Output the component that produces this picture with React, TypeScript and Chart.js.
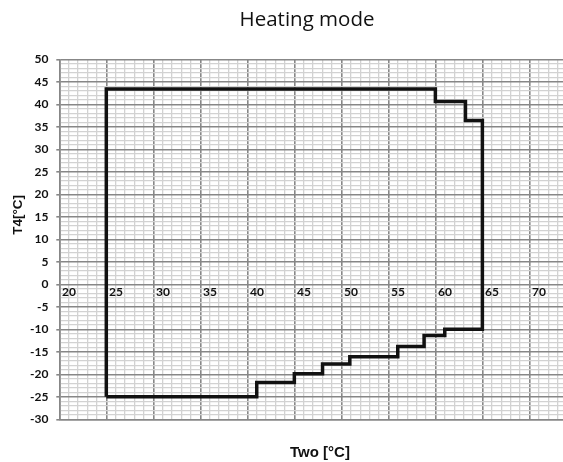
import { useEffect, useRef } from 'react';
import { Chart, registerables } from 'chart.js';

Chart.register(...registerables);

// Envelope outline (Two [°C], T4 [°C]) traced clockwise from the bottom-left corner
const twoValues = [25, 25, 60, 60, 63.2, 63.2, 65, 65, 61, 61, 58.8, 58.8, 56, 56, 50.9, 50.9, 48, 48, 45, 45, 41, 41, 25];
const t4Values = [-25, 43.4, 43.4, 40.6, 40.6, 36.4, 36.4, -10, -10, -11.4, -11.4, -13.8, -13.8, -16.1, -16.1, -17.7, -17.7, -19.9, -19.9, -21.8, -21.8, -25, -25];

const xTickLabels = [20, 25, 30, 35, 40, 45, 50, 55, 60, 65, 70];
const X_MIN = 20;
const X_MAX = 79;
const Y_MIN = -30;
const Y_MAX = 50;

const TITLE = 'Heating mode';
const X_TITLE = 'Two [°C]';
const Y_TITLE = 'T4[°C]';

function steps(a: number, b: number) {
  const r: { value: number }[] = [];
  for (let v = a; v <= b; v++) r.push({ value: v });
  return r;
}

export default function App() {
  const ref = useRef<HTMLCanvasElement>(null);

  useEffect(() => {
    if (!ref.current) return;
    const points = twoValues.map((x, i) => ({ x, y: t4Values[i] }));
    const major = '#878787';
    const minor = '#d2d2d2';
    const isMajor = (ctx: any) => ctx.tick && Math.round(ctx.tick.value) % 5 === 0;
    const gridColor = (ctx: any) => (isMajor(ctx) ? major : minor);
    const gridWidth = (ctx: any) => (isMajor(ctx) ? 1.6 : 1.3);
    const tickFont = { family: 'Lato', size: 12, weight: 'bold' as const };

    const chart = new Chart(ref.current, {
      type: 'scatter',
      data: {
        datasets: [
          {
            data: points,
            showLine: true,
            borderColor: '#111',
            borderWidth: 3.5,
            pointRadius: 0,
            pointHoverRadius: 0,
            fill: false,
            tension: 0,
            borderJoinStyle: 'miter',
          } as any,
        ],
      },
      options: {
        animation: false,
        responsive: false,
        devicePixelRatio: 1,
        layout: { padding: 0 },
        plugins: {
          legend: { display: false },
          tooltip: { enabled: false },
          title: {
            display: true,
            text: TITLE,
            color: '#111',
            font: { family: 'Open Sans', size: 20.5, weight: 'normal' },
            padding: { top: 8, bottom: 26.7 },
          },
        },
        scales: {
          x: {
            type: 'linear',
            axis: 'x',
            position: 'bottom',
            min: X_MIN,
            max: X_MAX,
            afterBuildTicks: (s: any) => {
              s.ticks = steps(X_MIN, X_MAX);
            },
            ticks: { display: false },
            grid: { color: gridColor, lineWidth: gridWidth, drawTicks: false },
            border: { color: major, width: 1.6 },
            title: {
              display: true,
              text: X_TITLE + '        ',
              color: '#111',
              font: { family: 'Liberation Sans', size: 15, weight: 'bold' },
              padding: { top: 24.7, bottom: 0 },
            },
          },
          xl: {
            type: 'linear',
            axis: 'x',
            position: { y: 0 },
            min: X_MIN,
            max: X_MAX,
            afterBuildTicks: (s: any) => {
              s.ticks = xTickLabels.map((v) => ({ value: v }));
            },
            grid: { display: false, drawTicks: false },
            border: { display: false },
            ticks: {
              autoSkip: false,
              maxRotation: 0,
              align: 'start',
              labelOffset: 2.7,
              padding: 1,
              color: '#111',
              font: tickFont,
              callback: (v: any) => String(v),
            },
          } as any,
          y: {
            type: 'linear',
            position: 'left',
            min: Y_MIN,
            max: Y_MAX,
            afterBuildTicks: (s: any) => {
              s.ticks = steps(Y_MIN, Y_MAX);
            },
            afterFit: (s: any) => {
              s.width = 59.3;
            },
            ticks: {
              autoSkip: false,
              padding: 7.8,
              color: '#111',
              font: tickFont,
              callback: (v: any) => (Math.round(v) % 5 === 0 ? String(v) : ''),
            },
            grid: {
              color: gridColor,
              lineWidth: gridWidth,
              tickLength: 3,
              tickWidth: 1.6,
              tickColor: (ctx: any) => (isMajor(ctx) ? major : 'rgba(0,0,0,0)'),
            },
            border: { color: major, width: 1.6 },
            title: {
              display: true,
              text: '             ' + Y_TITLE,
              color: '#111',
              font: { family: 'Liberation Sans', size: 13.5, weight: 'bold' },
              padding: { top: 9.9, bottom: 0 },
            },
          },
        },
      } as any,
    });
    return () => chart.destroy();
  }, []);

  return (
    <div
      style={{
        position: 'fixed',
        left: 0,
        top: 0,
        width: 563,
        height: 462,
        overflow: 'hidden',
        background: '#fff',
      }}
    >
      <canvas ref={ref} width={614} height={462} style={{ display: 'block', width: 614, height: 462 }} />
    </div>
  );
}
